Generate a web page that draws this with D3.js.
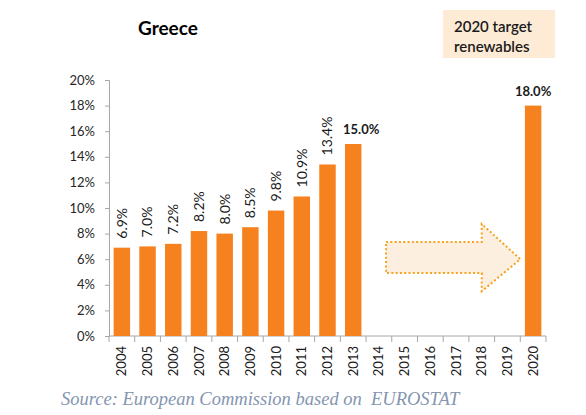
<!DOCTYPE html>
<html><head><meta charset="utf-8">
<script src="https://cdn.jsdelivr.net/npm/d3@7"></script>
<style>
html,body{margin:0;padding:0;background:#fff;}
svg{display:block;}
</style></head>
<body><div id="chart"></div>
<script>
const years = ["2004","2005","2006","2007","2008","2009","2010","2011","2012","2013","2014","2015","2016","2017","2018","2019","2020"];
const values = [6.9,7.0,7.2,8.2,8.0,8.5,9.8,10.9,13.4,15.0,null,null,null,null,null,null,18.0];
const labels = ["6.9%","7.0%","7.2%","8.2%","8.0%","8.5%","9.8%","10.9%","13.4%","15.0%","","","","","","","18.0%"];
const boldLabel = [false,false,false,false,false,false,false,false,false,true,false,false,false,false,false,false,true];
const yTicks = [0,2,4,6,8,10,12,14,16,18,20];
const title = "Greece";
const boxLines = ["2020 target","renewables"];
const source = "Source: European Commission based on\u00a0\u00a0EUROSTAT";

const W = 586, H = 415;
const m = {left:109, right:40, top:80, bottom:79};
const svg = d3.select("#chart").append("svg").attr("width",W).attr("height",H)
  .style("font-family","Lato, 'Open Sans', sans-serif");

const x = d3.scaleBand().domain(years).range([m.left, W-m.right]).paddingInner(0.36).paddingOuter(0.18);
const y = d3.scaleLinear().domain([0,20]).range([H-m.bottom, m.top]);
const step = x.step();
const bandStart = i => m.left + i*step;

// y axis
const yAxis = svg.append("g").attr("transform",`translate(${m.left},0)`)
  .call(d3.axisLeft(y).tickValues(yTicks).tickSize(4).tickPadding(10).tickFormat(d=>d+"%"));
yAxis.attr("font-family",null);
yAxis.select(".domain").attr("stroke","#a6a6a6");
yAxis.selectAll(".tick line").attr("stroke","#a6a6a6");
yAxis.selectAll(".tick text").attr("font-size",13).attr("fill","#262626");

// x axis
const xg = svg.append("g").attr("transform",`translate(0,${y(0)})`);
xg.append("line").attr("x1",m.left).attr("x2",W-m.right).attr("stroke","#a6a6a6");
xg.selectAll("line.tk").data(d3.range(years.length+1)).join("line").attr("class","tk")
  .attr("x1",i=>bandStart(i)).attr("x2",i=>bandStart(i)).attr("y1",0).attr("y2",6).attr("stroke","#a6a6a6");
xg.selectAll("text").data(years).join("text")
  .attr("transform",d=>`translate(${x(d)+x.bandwidth()/2},10) rotate(-90)`)
  .attr("text-anchor","end").attr("dy","0.35em")
  .attr("font-size",13).attr("fill","#1a1a1a").text(d=>d);

// bars
const data = years.map((yr,i)=>({yr, v:values[i], lab:labels[i], bold:boldLabel[i]})).filter(d=>d.v!=null);
svg.selectAll("rect.bar").data(data).join("rect").attr("class","bar")
  .attr("x",d=>x(d.yr)).attr("width",x.bandwidth())
  .attr("y",d=>y(d.v)).attr("height",d=>y(0)-y(d.v)).attr("fill","#f5821f");

// labels
svg.selectAll("text.vl").data(data.filter(d=>!d.bold)).join("text").attr("class","vl")
  .attr("transform",d=>`translate(${x(d.yr)+x.bandwidth()/2},${y(d.v)-9}) rotate(-90)`)
  .attr("dy","0.35em").attr("font-size",14).attr("fill","#1a1a1a").text(d=>d.lab);
svg.selectAll("text.bl").data(data.filter(d=>d.bold)).join("text").attr("class","bl")
  .attr("x",d=>d.yr==="2020" ? x(d.yr)+x.bandwidth()/2 : x(d.yr)-2)
  .attr("text-anchor",d=>d.yr==="2020"?"middle":"start")
  .attr("y",d=>y(d.v)-10).attr("font-size",13).attr("font-weight","bold").attr("fill","#1a1a1a").text(d=>d.lab);

// arrow annotation
const ax0 = bandStart(10)+20, axH = x("2018")+x.bandwidth()/2, axT = bandStart(16);
const p = d3.path();
p.moveTo(ax0, y(7.35)); p.lineTo(axH, y(7.35)); p.lineTo(axH, y(8.75)); p.lineTo(axT, y(6.0));
p.lineTo(axH, y(3.5)); p.lineTo(axH, y(4.92)); p.lineTo(ax0, y(4.92)); p.closePath();
svg.append("path").attr("d",p.toString()).attr("fill","#fdefdf")
  .attr("stroke","#f8a21f").attr("stroke-width",2).attr("stroke-dasharray","2,2.3");

// title
svg.append("text").attr("x",138).attr("y",35).attr("font-size",19).attr("font-weight","bold").attr("fill","#000").text(title);

// box
svg.append("rect").attr("x",443).attr("y",10).attr("width",112).attr("height",48).attr("fill","#fdebd6");
svg.selectAll("text.box").data(boxLines).join("text").attr("class","box")
  .attr("x",454).attr("y",(d,i)=>32+i*20).attr("font-size",15).attr("font-weight",600).attr("fill","#1a1a1a").text(d=>d);

// source
svg.append("text").attr("x",61).attr("y",405)
  .style("font-family","'Liberation Serif', 'DejaVu Serif', serif")
  .style("font-style","italic").attr("font-size",18.5).attr("fill","#8496b0").text(source);
</script></body></html>
